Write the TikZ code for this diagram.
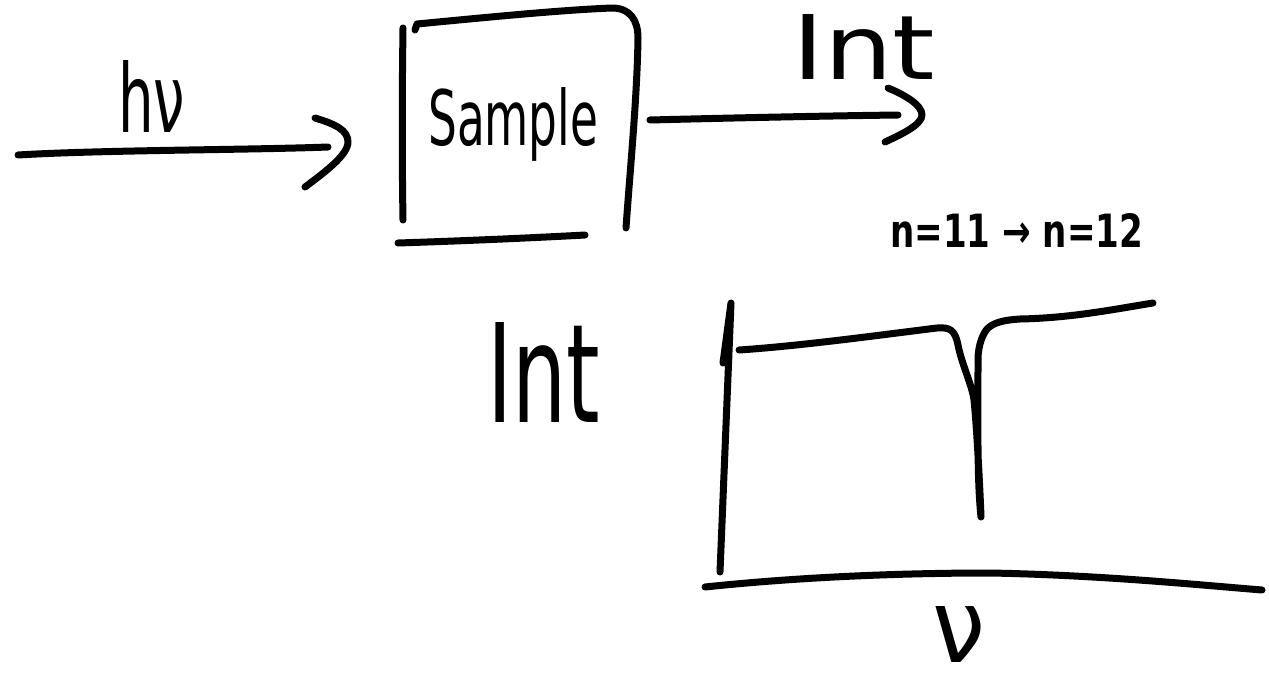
\documentclass[tikz,border=0pt]{standalone}
\usepackage{fontspec}
\setmainfont{DejaVu Sans}
\usepackage{graphicx}
\begin{document}
\begin{tikzpicture}[x=1pt,y=-1pt,
  ink/.style={line width=7pt, line cap=round, line join=round},
  txt/.style={inner sep=0pt, anchor=base west}]
\useasboundingbox (0,0) rectangle (1269,685);

% labels
\node[txt] (hnu)    at (118,132) {\resizebox{67pt}{72pt}{hν}};
\node[txt] (sample) at (428,145) {\resizebox{170pt}{58pt}{Sample}};
\node[txt] (intout) at (792,80)  {\resizebox{143pt}{65pt}{Int}};
\node[txt] (trans)  at (890,247) {\resizebox{253pt}{34pt}{\bfseries n=11 → n=12}};
\node[txt] (intax)  at (487,422) {\resizebox{113pt}{100pt}{Int}};
\node[txt] (nuax)   at (932,662) {\resizebox*{53pt}{56pt}{ν}};

% beam coordinates
\coordinate (src)    at (18,155);
\coordinate (inend)  at (328,147);
\coordinate (outbeg) at (650,120);
\coordinate (outend) at (898,115);

% incoming light
\draw[ink] (src) .. controls (100,150) and (250,150) .. (inend);
\draw[ink] (315,118) .. controls (335,124) and (348,130) .. (348,142)
  .. controls (348,155) and (325,172) .. (305,187);

% sample box
\draw[ink] (403,28) .. controls (402,100) and (402,160) .. (403,220);
\draw[ink] (415,30) -- (417,24) .. controls (480,18) and (560,10) .. (612,8)
  .. controls (630,8) and (638,20) .. (638,38)
  .. controls (637,100) and (630,170) .. (626,228);
\draw[ink] (398,243) .. controls (460,241) and (530,238) .. (585,235);

% transmitted light
\draw[ink] (outbeg) .. controls (730,118) and (820,116) .. (outend);
\draw[ink] (888,88) .. controls (905,95) and (922,105) .. (922,115)
  .. controls (922,125) and (900,135) .. (885,142);

% axes
\draw[ink] (723,363) -- (731,303) -- (720,572);
\draw[ink] (705,587) .. controls (800,577) and (900,573) .. (990,573)
  .. controls (1100,575) and (1200,585) .. (1262,590);

% spectrum with absorption dip
\draw[ink] (739,350) .. controls (800,346) and (880,335) .. (937,328)
  .. controls (950,327) and (955,330) .. (958,345)
  .. controls (962,365) and (972,385) .. (974,400)
  .. controls (977,430) and (980,490) .. (981,517)
  .. controls (977,480) and (978,420) .. (978,360)
  .. controls (978,345) and (983,333) .. (988,328)
  .. controls (995,322) and (1005,320) .. (1020,319)
  .. controls (1070,318) and (1110,310) .. (1153,303);
\end{tikzpicture}
\end{document}
